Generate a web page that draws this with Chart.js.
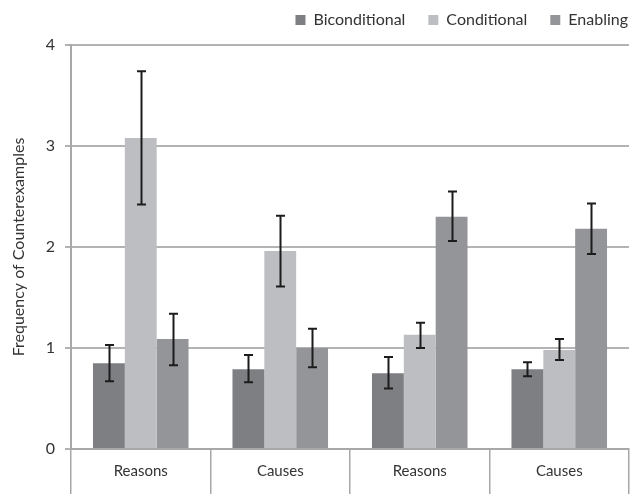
<!DOCTYPE html>
<html>
<head>
<meta charset="utf-8">
<script src="https://cdn.jsdelivr.net/npm/chart.js@4"></script>
<style>
  html, body { margin: 0; padding: 0; background: #fff; }
  #wrap { width: 632px; height: 494px; }
</style>
</head>
<body>
<div id="wrap"><canvas id="c" width="632" height="494"></canvas></div>
<script>
// Mean frequency of counterexamples per condition, with error bar bounds
const categories = ['Reasons', 'Causes', 'Reasons', 'Causes'];
const seriesNames = ['Biconditional', 'Conditional', 'Enabling'];

const biconditional = [0.85, 0.79, 0.75, 0.79];
const conditional   = [3.08, 1.96, 1.13, 0.98];
const enabling      = [1.09, 1.00, 2.30, 2.18];

const biconditionalLow  = [0.67, 0.66, 0.60, 0.72];
const biconditionalHigh = [1.03, 0.93, 0.91, 0.86];
const conditionalLow    = [2.42, 1.61, 1.00, 0.88];
const conditionalHigh   = [3.74, 2.31, 1.25, 1.09];
const enablingLow       = [0.83, 0.81, 2.06, 1.93];
const enablingHigh      = [1.34, 1.19, 2.55, 2.43];

const yTicks = [0, 1, 2, 3, 4];

const FONT = 'Lato, "Open Sans", sans-serif';
const LEGEND_GAP = 23;
const LEGEND_LIFT = 7;

// Draws vertical error bars with caps on top of each bar
const errorBars = {
  id: 'errorBars',
  afterDatasetsDraw(chart) {
    const ctx = chart.ctx;
    const y = chart.scales.y;
    ctx.save();
    ctx.strokeStyle = '#1c1c1c';
    ctx.lineWidth = 2;
    chart.data.datasets.forEach((ds, i) => {
      const meta = chart.getDatasetMeta(i);
      meta.data.forEach((bar, j) => {
        const lo = y.getPixelForValue(ds.errLow[j]);
        const hi = y.getPixelForValue(ds.errHigh[j]);
        const x = Math.round(bar.x) + 0.5;
        ctx.beginPath();
        ctx.moveTo(x, lo); ctx.lineTo(x, hi);
        ctx.moveTo(x - 4.5, hi); ctx.lineTo(x + 4.5, hi);
        ctx.moveTo(x - 4.5, lo); ctx.lineTo(x + 4.5, lo);
        ctx.stroke();
      });
    });
    ctx.restore();
  }
};

// Pushes the legend row flush to the right edge and lifts it above the plot
const legendPlacement = {
  id: 'legendPlacement',
  afterLayout(chart) {
    const lg = chart.legend;
    if (!lg) return;
    lg.left += LEGEND_GAP - 1; lg.right += LEGEND_GAP - 1;
    lg.top -= LEGEND_LIFT; lg.bottom -= LEGEND_LIFT;
  }
};

new Chart(document.getElementById('c'), {
  type: 'bar',
  data: {
    labels: categories,
    datasets: [
      { label: seriesNames[0], data: biconditional, errLow: biconditionalLow, errHigh: biconditionalHigh, backgroundColor: '#7e7f83' },
      { label: seriesNames[1], data: conditional,   errLow: conditionalLow,   errHigh: conditionalHigh,   backgroundColor: '#bdbec1' },
      { label: seriesNames[2], data: enabling,      errLow: enablingLow,      errHigh: enablingHigh,      backgroundColor: '#949598' }
    ]
  },
  options: {
    responsive: false,
    animation: false,
    devicePixelRatio: 1,
    layout: { padding: { top: -4, right: 3, left: 0, bottom: 0 } },
    datasets: { bar: { categoryPercentage: 0.685, barPercentage: 1.0 } },
    plugins: {
      legend: {
        position: 'top',
        align: 'end',
        labels: {
          boxWidth: 10, boxHeight: 10, padding: LEGEND_GAP,
          color: '#333', font: { family: FONT, size: 16 }
        }
      },
      tooltip: { enabled: false }
    },
    scales: {
      x: {
        offset: true,
        grid: {
          offset: true,
          drawOnChartArea: false,
          drawTicks: true,
          tickLength: 45,
          color: '#a8a8a8',
          lineWidth: 1.5
        },
        border: { color: '#a8a8a8', width: 2 },
        ticks: { color: '#333', font: { family: FONT, size: 15 }, padding: -32, maxRotation: 0 },
        afterFit(scale) { scale.height = 45; }
      },
      y: {
        min: 0, max: 4,
        afterBuildTicks(scale) { scale.ticks = yTicks.map(v => ({ value: v })); },
        grid: { color: '#b3b3b3', lineWidth: 2, tickLength: 6 },
        border: { color: '#a8a8a8', width: 2 },
        ticks: { color: '#333', font: { family: FONT, size: 16 }, padding: 10 },
        title: {
          display: true,
          text: 'Frequency of Counterexamples',
          color: '#333',
          font: { family: FONT, size: 16 },
          padding: { top: 9, bottom: 4 }
        },
        afterFit(scale) { scale.width = 71; }
      }
    }
  },
  plugins: [errorBars, legendPlacement]
});
</script>
</body>
</html>
